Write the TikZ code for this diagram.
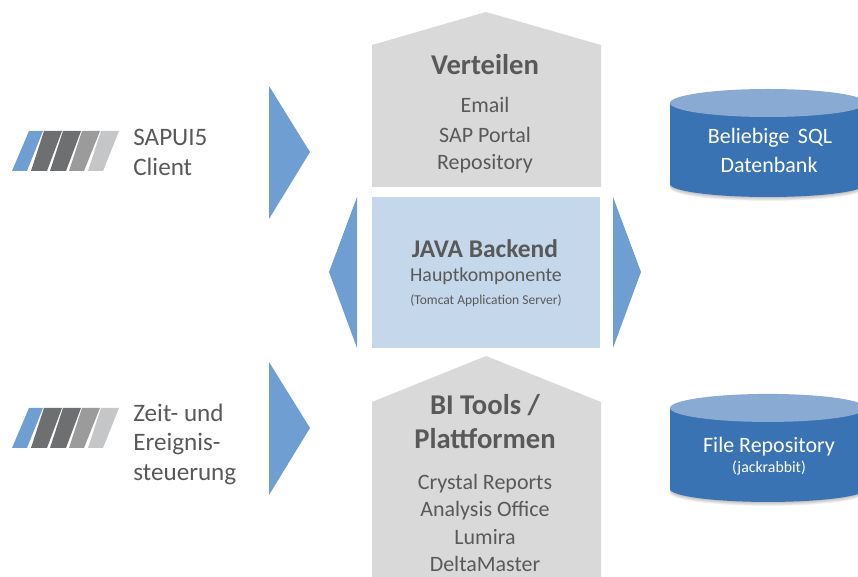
\documentclass[tikz,border=0pt]{standalone}
\usepackage{fontspec}
\setmainfont{Carlito}
\usepackage{xcolor}
\usetikzlibrary{backgrounds}
\definecolor{boxgrey}{HTML}{D9D9D9}
\definecolor{boxblue}{HTML}{C5D7EB}
\definecolor{arrowblue}{HTML}{6F9FD2}
\definecolor{cylblue}{HTML}{3A73B3}
\definecolor{cyltop}{HTML}{89ABD3}
\definecolor{textgrey}{HTML}{595959}
\definecolor{stripedark}{HTML}{6D6F71}
\definecolor{stripemid}{HTML}{9B9B9B}
\definecolor{stripelight}{HTML}{C5C6C8}
\tikzset{
  title/.style={text=textgrey,font=\fontsize{16.3}{18}\selectfont\bfseries,inner sep=0pt},
  body/.style={text=textgrey,font=\fontsize{12.5}{14}\selectfont,inner sep=0pt},
  side/.style={text=textgrey,font=\fontsize{14.3}{16}\selectfont,inner sep=0pt,anchor=west},
  small/.style={text=textgrey,font=\fontsize{7.7}{9}\selectfont,inner sep=0pt},
  cyltext/.style={text=white,font=\fontsize{12.5}{14}\selectfont,inner sep=0pt},
  cylsmall/.style={text=white,font=\fontsize{9}{10}\selectfont,inner sep=0pt},
  pointer/.style={fill=arrowblue,draw=none}
}
\newcommand{\logostripes}[1]{%
  \begin{scope}[yshift=#1]
    \fill[arrowblue] (12,171) -- (29,131) -- (43,131) -- (27,171) -- cycle;
    \fill[stripedark] (31,171) -- (44,131) -- (62,131) -- (47,171) -- cycle;
    \fill[stripedark] (50,171) -- (63,131) -- (81,131) -- (66,171) -- cycle;
    \fill[stripemid] (69,171) -- (82,131) -- (100,131) -- (84,171) -- cycle;
    \fill[stripelight] (88,171) -- (101,131) -- (119,131) -- (103,171) -- cycle;
  \end{scope}}
\newcommand{\database}[2]{%
  \begin{scope}[yshift=#1]
    \foreach \s in {1,...,5}
      \fill[black,opacity=0.05]
        (#2-98,103) -- (#2-98,184+\s*0.8) arc[x radius=98,y radius=13,start angle=180,end angle=0]
        -- (#2+98,103) -- cycle;
    \fill[cylblue] (#2-98,103) -- (#2-98,184) arc[x radius=98,y radius=13,start angle=180,end angle=0]
      -- (#2+98,103) -- cycle;
    \fill[cyltop] (#2,103) ellipse[x radius=98,y radius=14];
  \end{scope}}

\begin{document}
\begin{tikzpicture}[x=0.02cm,y=-0.02cm]
  \useasboundingbox (0,0) rectangle (858,577);
  \clip (0,0) rectangle (858,577);

  \logostripes{0}
  \logostripes{-5.54cm}

  \node[side] (sapui) at (133,137) {SAPUI5};
  \node[side] (client) at (133,167) {Client};
  \node[side] (zeit) at (133,413) {Zeit- und};
  \node[side] (ereignis) at (133,444) {Ereignis-};
  \node[side] (steuerung) at (133,475) {steuerung};

  % arrows
  \fill[pointer] (269,86) -- (310,152) -- (269,219) -- cycle;
  \fill[pointer] (269,362) -- (310,428) -- (269,495) -- cycle;
  \fill[pointer] (357,197) -- (329,272) -- (357,348) -- cycle;
  \fill[pointer] (613,197) -- (641,272) -- (613,348) -- cycle;

  % boxes
  \fill[boxgrey] (372,187) -- (372,45) -- (486,12) -- (601,45) -- (601,187) -- cycle;
  \fill[boxblue] (372,197) rectangle (600,348);
  \fill[boxgrey] (372,577) -- (372,402) -- (486,356) -- (601,402) -- (601,577) -- cycle;

  \node[title] (verteilen) at (485,65) {Verteilen};
  \node[body] (email) at (485,105) {Email};
  \node[body] (portal) at (485,135) {SAP Portal};
  \node[body] (repo) at (485,164) {Repository};

  \node[title,font=\fontsize{14.5}{16}\selectfont\bfseries] (java) at (485,249) {JAVA Backend};
  \node[body,font=\fontsize{11.3}{13}\selectfont] (haupt) at (486,276) {Hauptkomponente};
  \node[small] (tomcat) at (486,301) {(Tomcat Application Server)};

  \node[title] (bi) at (485,405) {BI Tools /};
  \node[title] (plattformen) at (485,439) {Plattformen};
  \node[body] (crystal) at (485,484) {Crystal Reports};
  \node[body] (analysis) at (485,511) {Analysis Office};
  \node[body] (lumira) at (485,537) {Lumira};
  \node[body] (delta) at (485,564) {DeltaMaster};

  % databases
  \database{0}{768}
  \database{-6.1cm}{768}

  \node[cyltext] (sql) at (770,138) {Beliebige\hspace{2pt} SQL};
  \node[cyltext] (datenbank) at (769,165) {Datenbank};
  \node[cyltext] (file) at (769,447) {File Repository};
  \node[cylsmall] (jackrabbit) at (769,468) {(jackrabbit)};
\end{tikzpicture}
\end{document}
